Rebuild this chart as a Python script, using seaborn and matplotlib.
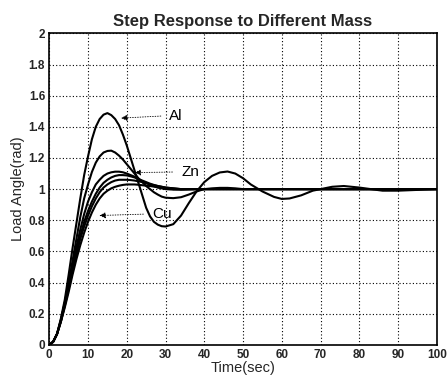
import numpy as np
import pandas as pd
import matplotlib
matplotlib.use("Agg")
import matplotlib.pyplot as plt
import matplotlib.ticker as mticker
import seaborn as sns

# ---- data ----
time = [0, 1, 2, 3, 4, 5, 6, 7, 8, 9, 10, 11, 12, 13, 14, 15, 16, 17, 18, 19, 20,
        21, 22, 23, 24, 25, 26, 27, 28, 29, 30,
        32, 34, 36, 38, 40, 42, 44, 46, 48, 50, 52, 55, 58, 60, 62, 65, 68, 70, 73,
        76, 80, 83, 86, 90, 95, 100]

al = [0, 0.02, 0.07, 0.17, 0.29, 0.45, 0.62, 0.78, 0.94, 1.09, 1.21, 1.32, 1.40, 1.45, 1.478, 1.488, 1.475, 1.45, 1.41, 1.35, 1.28,
      1.20, 1.12, 1.04, 0.96, 0.88, 0.825, 0.79, 0.772, 0.762, 0.76,
      0.775, 0.83, 0.91, 0.985, 1.045, 1.085, 1.107, 1.113, 1.10, 1.07, 1.03, 0.985, 0.95, 0.937, 0.94, 0.96, 0.99, 1.0, 1.015,
      1.02, 1.01, 1.0, 0.99, 0.99, 0.995, 1.0]

m2 = [0, 0.02, 0.07, 0.16, 0.27, 0.40, 0.54, 0.68, 0.82, 0.94, 1.03, 1.11, 1.17, 1.21, 1.235, 1.245, 1.247, 1.235, 1.215, 1.19, 1.16,
      1.13, 1.10, 1.07, 1.045, 1.02, 1.0, 0.98, 0.965, 0.952, 0.945,
      0.942, 0.948, 0.965, 0.985, 1.0, 1.005, 1.008, 1.008, 1.005, 1.0, 1.0, 1.0, 1.0, 1.0, 1.0, 1.0, 1.0, 1.0, 1.0,
      1.0, 1.0, 1.0, 1.0, 1.0, 1.0, 1.0]

zn = [0, 0.02, 0.07, 0.16, 0.27, 0.39, 0.51, 0.63, 0.74, 0.84, 0.92, 0.98, 1.03, 1.06, 1.085, 1.10, 1.108, 1.112, 1.112, 1.108, 1.10,
      1.09, 1.08, 1.065, 1.05, 1.04, 1.03, 1.02, 1.01, 1.005, 1.0,
      0.997, 0.996, 0.998, 1.0, 1.0, 1.0, 1.0, 1.0, 1.0, 1.0, 1.0, 1.0, 1.0, 1.0, 1.0, 1.0, 1.0, 1.0, 1.0,
      1.0, 1.0, 1.0, 1.0, 1.0, 1.0, 1.0]

m4 = [0, 0.02, 0.07, 0.15, 0.26, 0.37, 0.49, 0.60, 0.70, 0.79, 0.86, 0.92, 0.97, 1.01, 1.04, 1.06, 1.075, 1.085, 1.09, 1.09, 1.088,
      1.082, 1.075, 1.065, 1.055, 1.045, 1.035, 1.027, 1.02, 1.015, 1.01,
      1.005, 1.0, 1.0, 1.0, 1.0, 1.0, 1.0, 1.0, 1.0, 1.0, 1.0, 1.0, 1.0, 1.0, 1.0, 1.0, 1.0, 1.0, 1.0,
      1.0, 1.0, 1.0, 1.0, 1.0, 1.0, 1.0]

m5 = [0, 0.02, 0.07, 0.15, 0.25, 0.36, 0.47, 0.58, 0.68, 0.76, 0.83, 0.89, 0.94, 0.98, 1.01, 1.03, 1.045, 1.055, 1.06, 1.06, 1.06,
      1.058, 1.055, 1.05, 1.045, 1.038, 1.03, 1.025, 1.02, 1.015, 1.01,
      1.005, 1.0, 1.0, 1.0, 1.0, 1.0, 1.0, 1.0, 1.0, 1.0, 1.0, 1.0, 1.0, 1.0, 1.0, 1.0, 1.0, 1.0, 1.0,
      1.0, 1.0, 1.0, 1.0, 1.0, 1.0, 1.0]

cu = [0, 0.02, 0.07, 0.15, 0.24, 0.34, 0.45, 0.55, 0.64, 0.72, 0.79, 0.85, 0.90, 0.94, 0.97, 0.99, 1.005, 1.015, 1.022, 1.027, 1.03,
      1.03, 1.03, 1.028, 1.025, 1.022, 1.02, 1.016, 1.012, 1.009, 1.006,
      1.0, 1.0, 1.0, 1.0, 1.0, 1.0, 1.0, 1.0, 1.0, 1.0, 1.0, 1.0, 1.0, 1.0, 1.0, 1.0, 1.0, 1.0, 1.0,
      1.0, 1.0, 1.0, 1.0, 1.0, 1.0, 1.0]

series = {"Al": al, "m2": m2, "Zn": zn, "m4": m4, "m5": m5, "Cu": cu}

# annotations: label, text position (t, y), arrow tip (t, y)
labels = ["Al", "Zn", "Cu"]
label_pos = [(31.0, 1.47), (34.0, 1.11), (26.5, 0.84)]
arrow_tip = [(17.8, 1.455), (21.3, 1.106), (12.2, 0.83)]

x_ticks = list(range(0, 101, 10))
y_ticks = [0, 0.2, 0.4, 0.6, 0.8, 1, 1.2, 1.4, 1.6, 1.8, 2]

# ---- plotting ----
sns.set_theme(style="white")
plt.rcParams['font.family'] = ['Liberation Sans', 'DejaVu Sans']

rows = []
for name, vals in series.items():
    for t, v in zip(time, vals):
        rows.append({"t": t, "y": v, "curve": name})
df = pd.DataFrame(rows)

fig = plt.figure(figsize=(4.48, 3.79), dpi=100)
ax = fig.add_axes([0.110, 0.090, 0.865, 0.822])

sns.lineplot(data=df, x="t", y="y", units="curve", estimator=None,
             color="black", linewidth=1.5, ax=ax, sort=False)

ax.set_xlim(0, 100)
ax.set_ylim(0, 2)
ax.set_xticks(x_ticks)
ax.set_yticks(y_ticks)
ax.yaxis.set_major_formatter(mticker.FormatStrFormatter('%g'))
ax.grid(True, color="black", linestyle=(0, (1, 2)), linewidth=0.8)
for s in ax.spines.values():
    s.set_color("black")
    s.set_linewidth(1.2)
ax.tick_params(axis="both", direction="in", length=3, color="black",
               labelsize=8.5, pad=3)
for lab in ax.get_xticklabels() + ax.get_yticklabels():
    lab.set_fontweight("bold")

ax.set_xlabel("Time(sec)", fontsize=10.5, labelpad=0)
ax.set_ylabel("Load Angle(rad)", fontsize=10.5, labelpad=3)
ax.set_title("Step Response to Different Mass", fontsize=12,
             fontweight="bold", pad=5)

for name, (tx, ty), (ax_, ay) in zip(labels, label_pos, arrow_tip):
    ax.annotate("", xy=(ax_, ay), xytext=(tx - 1.5, ty),
                arrowprops=dict(arrowstyle="-|>", color="black", lw=0.6,
                                linestyle=(0, (1, 2)), mutation_scale=9))
    ax.text(tx, ty, name, fontsize=11, ha="left", va="center", color="black")

fig.savefig("out.png", dpi=100)
